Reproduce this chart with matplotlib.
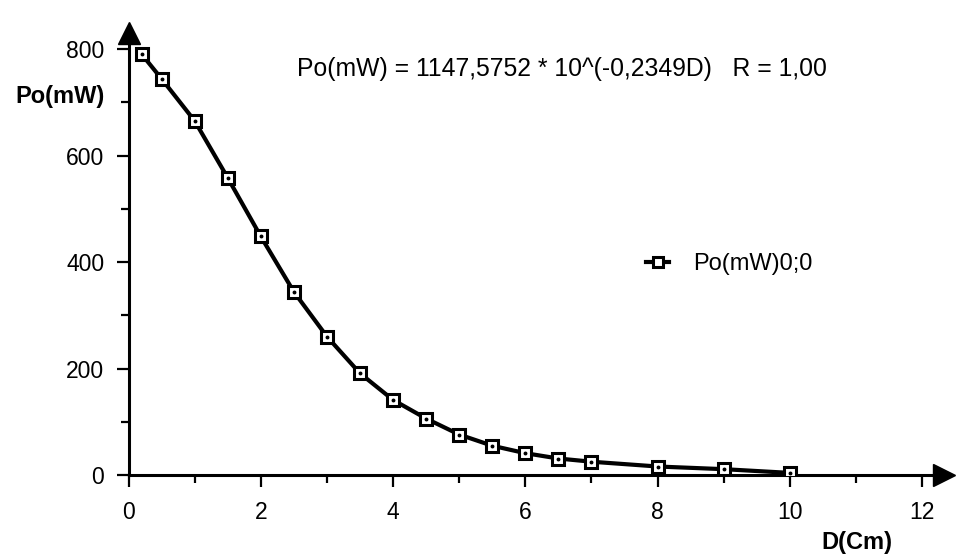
import matplotlib.pyplot as plt
import numpy as np

plt.rcParams['font.family'] = ['Liberation Sans', 'DejaVu Sans']

# distance (cm) and power (mW)
dist = [0.2, 0.5, 1, 1.5, 2, 2.5, 3, 3.5, 4, 4.5, 5, 5.5, 6, 6.5, 7, 8, 9, 10]
power = [790, 744, 665, 558, 448, 344, 260, 191, 141, 106, 76, 55, 41, 31, 25, 16, 11, 4]

x_ticks = [0, 2, 4, 6, 8, 10, 12]
y_ticks = [0, 200, 400, 600, 800]

fig = plt.figure(figsize=(9.57, 5.58), dpi=100)
ax = fig.add_axes([0.1343, 0.1487, 0.8521, 0.7921])

ax.plot(dist, power, color='k', lw=3, marker='s', markersize=8.5,
        markerfacecolor='white', markeredgecolor='k', markeredgewidth=2.2,
        label='Po(mW)0;0', zorder=3)
# small dot in the middle of each square
ax.plot(dist, power, ls='none', marker='o', markersize=1.8, color='k', zorder=4)

ax.set_xlim(0, 12.33)
ax.set_ylim(0, 830)

for s in ['top', 'right']:
    ax.spines[s].set_visible(False)
for s in ['left', 'bottom']:
    ax.spines[s].set_linewidth(2.2)

# arrow heads on the axes
ax.plot(1, 0, '>k', markersize=16, transform=ax.transAxes, clip_on=False)
ax.plot(0, 1, '^k', markersize=16, transform=ax.transAxes, clip_on=False)

ax.set_xticks(x_ticks)
ax.set_xticks(np.arange(1, 12, 2), minor=True)
ax.set_yticks(y_ticks)
ax.set_yticks(np.arange(100, 800, 200), minor=True)
ax.tick_params(which='major', direction='out', length=8.5, width=1.6, labelsize=16.5)
ax.tick_params(axis='x', which='major', pad=10)
ax.tick_params(axis='y', which='major', pad=9)
ax.tick_params(which='minor', direction='out', length=6, width=1.6)

fig.text(105 / 957, 1 - 97 / 558, 'Po(mW)', fontsize=17, fontweight='bold',
         ha='right', va='center')
fig.text(892 / 957, 1 - 543 / 558, 'D(Cm)', fontsize=17, fontweight='bold',
         ha='right', va='center')

fig.text(297 / 957, 1 - 69 / 558,
         'Po(mW) = 1147,5752 * 10^(-0,2349D)   R = 1,00',
         fontsize=17.8, ha='left', va='center')

leg = ax.legend(loc='center left', bbox_to_anchor=(634 / 957, 1 - 264 / 558),
                bbox_transform=fig.transFigure, frameon=False, fontsize=17,
                borderpad=0, handlelength=1.0, handletextpad=1.0, markerscale=0.8)

plt.savefig('out.png', dpi=100)
